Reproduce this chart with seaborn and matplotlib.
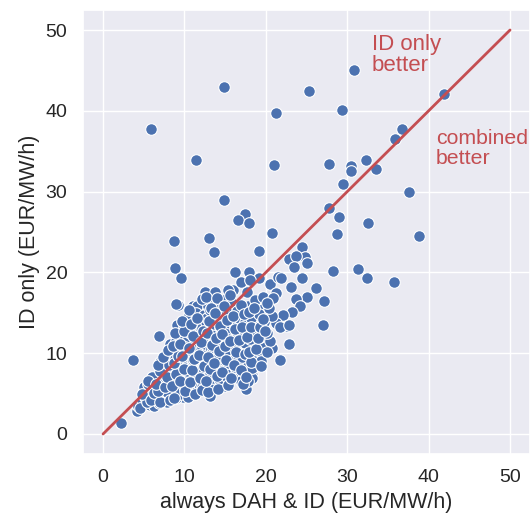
import numpy as np
import pandas as pd
import matplotlib
matplotlib.use("Agg")
import matplotlib.pyplot as plt
import seaborn as sns

# --- data: (always DAH & ID, ID only) in EUR/MW/h ---
outlier_x = [30.8, 25.3, 41.9, 14.9, 29.3, 21.3, 5.9, 36.7, 35.9, 11.4, 21.0, 27.8,
             30.4, 30.4, 32.3, 33.5, 29.5, 37.6, 14.9, 27.8, 29.0, 17.4, 16.6, 17.9,
             32.5, 20.8, 28.7, 38.8, 8.7, 13.0, 24.4, 13.6, 19.1, 24.8, 25.0, 22.8,
             23.7, 23.5, 8.9, 9.6, 28.3, 31.3, 32.4, 35.7, 24.5, 26.2, 23.1, 25.1,
             27.2, 23.7, 24.2, 23.2, 22.1, 21.3, 22.6, 21.7, 27.0, 22.9, 20.7, 21.7,
             18.9, 17.8, 16.3, 18.3, 16.2, 17.9, 19.2, 20.5, 21.5, 21.9, 21.3, 9.2,
             2.2, 4.2, 3.7, 6.9, 12.5, 13.8, 16.0, 17.7, 19.7, 17.8, 22.8, 17.0, 18.1,
             11.1, 9.0, 9.8, 12.1, 18.3]
outlier_y = [45.0, 42.4, 42.1, 43.0, 40.1, 39.7, 37.7, 37.7, 36.5, 33.9, 33.3, 33.4,
             33.2, 32.6, 33.9, 32.8, 31.0, 30.0, 29.0, 28.0, 26.9, 27.2, 26.5, 26.1,
             26.1, 24.9, 24.7, 24.5, 23.9, 24.3, 23.2, 22.5, 22.6, 21.9, 21.2, 21.6,
             22.0, 20.7, 20.6, 19.3, 20.2, 20.4, 19.3, 18.8, 19.3, 18.1, 18.2, 17.0,
             16.5, 16.7, 15.8, 15.1, 14.7, 13.7, 13.4, 13.2, 13.5, 11.2, 10.6, 9.2,
             10.0, 8.6, 7.5, 7.3, 20.0, 20.0, 19.3, 18.6, 19.4, 19.3, 17.5, 16.0,
             1.4, 2.8, 9.1, 12.1, 17.6, 17.6, 17.8, 17.6, 15.5, 15.9, 13.5, 18.8, 19.0,
             15.9, 16.1, 4.6, 5.7, 6.9]

# dense cluster, column by column (x centre of each column, y values in it)
cluster_cols = {
    4.6: [3.5, 4.2, 3.2],
    5.4: [3.6, 4.6, 5.4, 4.0, 5.8, 6.2],
    6.3: [3.5, 4.3, 5.0, 5.7, 6.4, 7.0, 4.8, 6.0],
    7.3: [3.8, 4.5, 5.2, 6.0, 6.7, 7.5, 8.2, 8.9, 5.5, 9.8],
    8.3: [4.0, 4.8, 5.5, 6.2, 7.0, 7.7, 8.4, 9.2, 10.0, 10.6, 5.2, 6.6, 11.2],
    9.3: [4.5, 5.0, 5.6, 6.3, 7.1, 7.8, 8.5, 9.3, 10.1, 10.8, 11.5, 12.0, 6.8, 9.0, 13.5],
    10.4: [4.6, 5.4, 6.0, 6.7, 7.4, 8.2, 8.9, 9.6, 10.3, 11.0, 11.7, 12.5, 13.2, 14.7, 7.8, 10.8, 12.9],
    11.5: [5.2, 5.9, 6.6, 7.3, 8.0, 8.8, 9.5, 10.2, 11.0, 11.7, 12.4, 13.2, 14.0, 15.9, 6.2, 9.1, 12.0, 15.0],
    12.5: [5.8, 6.4, 7.1, 7.8, 8.6, 9.3, 10.1, 10.8, 11.6, 12.3, 13.1, 13.9, 14.7, 15.9, 8.2, 11.2, 14.3],
    13.5: [4.7, 6.1, 6.9, 7.5, 8.3, 9.0, 9.8, 10.5, 11.3, 12.1, 12.8, 13.6, 14.5, 15.3, 16.2, 10.0],
    14.5: [6.0, 6.8, 7.6, 8.5, 9.2, 10.0, 10.8, 11.6, 12.4, 13.2, 14.0, 14.8, 15.6, 16.6, 9.6, 12.9],
    15.5: [6.5, 7.2, 8.0, 8.8, 9.6, 10.4, 11.2, 12.0, 12.8, 13.7, 14.5, 15.4, 16.3, 11.8],
    16.5: [6.5, 8.3, 9.2, 10.0, 10.9, 11.8, 12.6, 13.4, 14.3, 15.2, 16.0, 10.5],
    17.5: [5.6, 6.6, 9.5, 10.4, 11.3, 12.2, 13.0, 13.9, 14.8],
    18.5: [8.2, 9.0, 10.9, 11.7, 12.6, 13.5, 14.4, 16.6],
    19.5: [9.0, 11.0, 12.0, 12.9, 13.8, 14.8, 17.0],
    20.5: [11.5, 12.5, 14.6, 15.6, 16.8],
}

# second, staggered layer filling the gaps of the dense band
cluster_cols_2 = {
    5.0: [3.9, 4.9],
    5.9: [4.2, 5.1, 6.6],
    6.8: [4.0, 5.3, 6.2, 7.8, 8.6],
    7.8: [4.2, 5.8, 7.1, 8.6, 9.5, 10.4],
    8.8: [4.4, 5.9, 7.4, 8.8, 9.7, 10.9, 12.5],
    9.8: [5.3, 6.6, 8.1, 9.6, 11.2, 12.7, 14.0],
    10.9: [5.0, 6.4, 7.9, 9.3, 10.6, 12.1, 13.6, 15.3],
    12.0: [5.5, 6.9, 8.4, 9.8, 11.4, 12.8, 14.4, 16.7],
    13.0: [5.2, 6.6, 8.0, 9.5, 11.0, 12.5, 14.0, 15.6, 17.0],
    14.0: [5.6, 7.2, 8.8, 10.3, 11.9, 13.4, 15.0, 16.8],
    15.0: [6.1, 7.7, 9.2, 10.9, 12.4, 14.1, 15.9, 17.8],
    16.0: [6.9, 8.6, 10.1, 11.5, 13.0, 14.6, 17.2],
    17.0: [6.2, 7.9, 9.9, 11.6, 13.3, 14.9],
    18.0: [7.0, 8.9, 10.2, 12.0, 13.2, 15.1],
    19.0: [8.4, 10.5, 11.9, 13.3, 15.6],
    20.0: [10.2, 12.8, 14.2, 16.2],
}

cluster_x = [x for x, ys in cluster_cols.items() for _ in ys]
cluster_y = [y for ys in cluster_cols.values() for y in ys]
cluster_x2 = [x for x, ys in cluster_cols_2.items() for _ in ys]
cluster_y2 = [y for ys in cluster_cols_2.values() for y in ys]

# small offsets inside each column so the column is not a straight line
jit_pattern = [-0.35, 0.2, -0.1, 0.4, -0.25, 0.05, 0.3, -0.4, 0.15, -0.05]
cluster_x = [x + jit_pattern[i % len(jit_pattern)] for i, x in enumerate(cluster_x)]
cluster_x2 = [x + jit_pattern[(i + 3) % len(jit_pattern)] for i, x in enumerate(cluster_x2)]

df = pd.DataFrame({
    "dah_id": outlier_x + cluster_x + cluster_x2,
    "id_only": outlier_y + cluster_y + cluster_y2,
})

diag = [0, 50]
ticks = [0, 10, 20, 30, 40, 50]

sns.set_theme(style="darkgrid")
plt.rcParams["font.family"] = ["Liberation Sans", "DejaVu Sans"]

fig = plt.figure(figsize=(5.31, 5.23), dpi=100)
ax = fig.add_axes([82.7 / 531, 1 - 454.2 / 523, 447.7 / 531, 444.4 / 523])

sns.scatterplot(data=df, x="dah_id", y="id_only", ax=ax, s=70,
                color="#4C72B0", edgecolor="white", linewidth=0.8, zorder=2)
ax.plot(diag, diag, color="#C44E52", lw=2, zorder=3)

ax.set_xticks(ticks)
ax.set_yticks(ticks)
ax.tick_params(labelsize=14, pad=5)
ax.set_xlabel("always DAH & ID (EUR/MW/h)", fontsize=15.5)
ax.set_ylabel("ID only (EUR/MW/h)", fontsize=15.5)

ax.text(33.0, 49.5, "ID only\nbetter", color="#C44E52", fontsize=16,
        va="top", ha="left", linespacing=1.0)
ax.text(40.9, 37.8, "combined\nbetter", color="#C44E52", fontsize=15.3,
        va="top", ha="left", linespacing=1.1)

fig.savefig("out.png", dpi=100)
